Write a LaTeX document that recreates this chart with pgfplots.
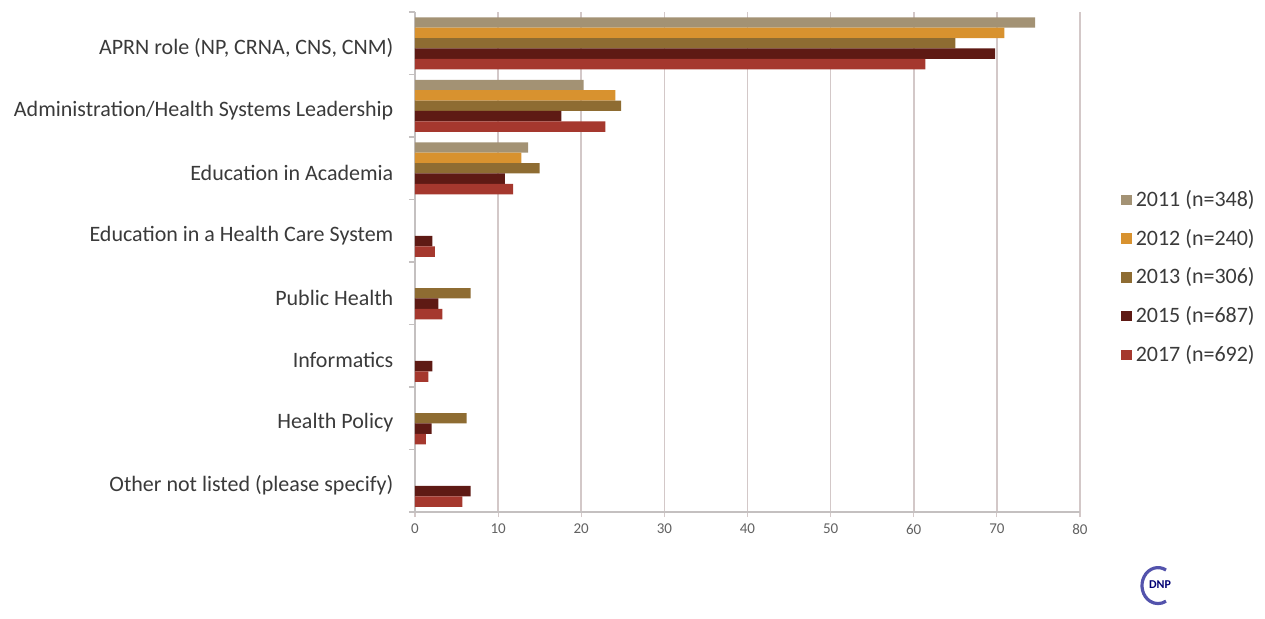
\documentclass[border=0pt]{standalone}
\usepackage{pgfplots}
\pgfplotsset{compat=1.18}
\usepackage{fontspec}
\setmainfont{Carlito}
\definecolor{cA}{HTML}{A39274}
\definecolor{cB}{HTML}{D8922F}
\definecolor{cC}{HTML}{8E6C32}
\definecolor{cD}{HTML}{5E1A14}
\definecolor{cE}{HTML}{A5382E}
\definecolor{gridc}{HTML}{D3C8C8}
\definecolor{axc}{HTML}{C4C0C0}
\definecolor{txt}{HTML}{3A3A3A}
\begin{document}
\begin{tikzpicture}
\useasboundingbox (0,0) rectangle (632.5pt,309pt);
\begin{axis}[
  at={(207.5pt,53pt)}, anchor=south west,
  scale only axis, width=332.5pt, height=250pt,
  xbar, bar width=5.2pt,
  xmin=0, xmax=80, xtick={0,10,...,80},
  ymin=-0.5, ymax=7.5,
  ytick={0,...,7},
  yticklabels={{Other not listed (please specify)},{Health Policy},{Informatics},{Public Health},{Education in a Health Care System},{Education in Academia},{Administration/Health Systems Leadership},{APRN role (NP, CRNA, CNS, CNM)}},
  minor ytick={-0.5,0.5,...,7.5},
  axis x line*=bottom, axis y line*=left,
  axis line style={draw=axc, line width=0.8pt},
  xmajorgrids, grid style={draw=gridc, line width=0.8pt},
  tick align=outside,
  y tick style={draw=none},
  minor y tick style={draw=axc, line width=0.6pt},
  minor tick length=3pt,
  x tick style={draw=gridc, line width=0.6pt},
  major tick length=2.5pt,
  /pgf/number format/assume math mode=true,
  x tick label style={font=\fontsize{7.5}{9}\selectfont, text=txt!80},
  y tick label style={font=\fontsize{11}{13}\selectfont, text=txt, xshift=-4.8pt, yshift=-2.3pt},
  legend style={at={(1.0526,0.66)}, anchor=north west, draw=none, fill=none,
    font=\fontsize{11}{13}\selectfont, text=txt, row sep=5.8pt, legend cell align=left},
  legend image code/.code={\fill[#1] (0pt,-2.6pt) rectangle (5.2pt,2.6pt);},
]
\addplot+[draw=none, fill=cA, bar shift=10.4pt] coordinates {(74.6,7) (20.3,6) (13.6,5)};
\addlegendentry{2011 (n=348)}
\addplot+[draw=none, fill=cB, bar shift=5.2pt] coordinates {(70.9,7) (24.1,6) (12.8,5)};
\addlegendentry{2012 (n=240)}
\addplot+[draw=none, fill=cC, bar shift=0pt] coordinates {(65.0,7) (24.8,6) (15.0,5) (6.7,3) (6.2,1)};
\addlegendentry{2013 (n=306)}
\addplot+[draw=none, fill=cD, bar shift=-5.2pt] coordinates {(69.8,7) (17.6,6) (10.8,5) (2.1,4) (2.8,3) (2.1,2) (2.0,1) (6.7,0)};
\addlegendentry{2015 (n=687)}
\addplot+[draw=none, fill=cE, bar shift=-10.4pt] coordinates {(61.4,7) (22.9,6) (11.8,5) (2.4,4) (3.3,3) (1.6,2) (1.3,1) (5.7,0)};
\addlegendentry{2017 (n=692)}
\end{axis}
\draw[line width=1.6pt, color=blue!35!gray] (583pt,24pt) arc (60:300:8pt and 9pt);
\node[font=\bfseries\fontsize{6}{6}\selectfont, text=blue!45!black] at (580pt,16.5pt) {DNP};
\end{tikzpicture}
\end{document}
